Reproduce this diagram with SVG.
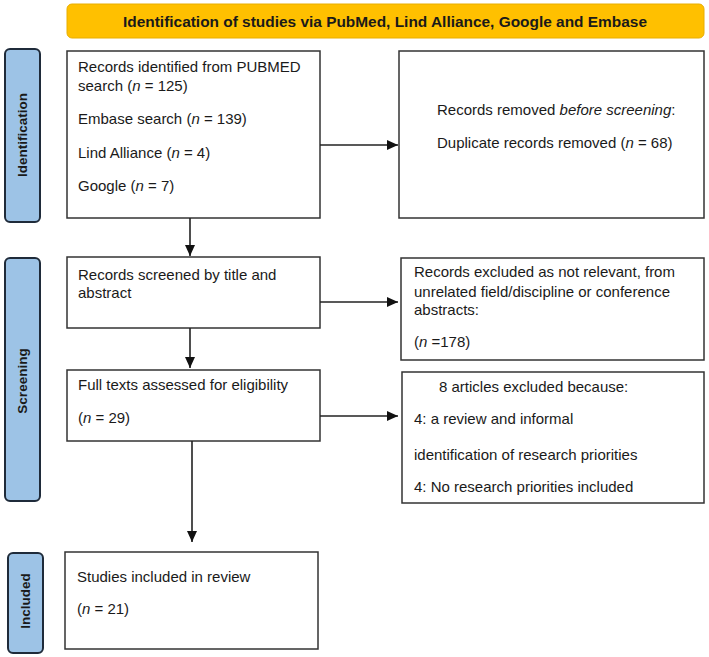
<svg xmlns="http://www.w3.org/2000/svg" width="709" height="657" viewBox="0 0 709 657">
<style>
.box{fill:#fff;stroke:#333;stroke-width:1.5}
.side{fill:#9DC3E6;stroke:#1F2B3A;stroke-width:2}
.hdr{fill:#FFC000;stroke:#E8AE00;stroke-width:1}
.t{font-family:"Liberation Sans",Arial,sans-serif;font-size:15px;fill:#1a1a1a}
.sl{font-family:"Liberation Sans",Arial,sans-serif;font-size:13.5px;font-weight:bold;fill:#1a1a1a;text-anchor:middle}
.ht{font-family:"Liberation Sans",Arial,sans-serif;font-size:15px;font-weight:bold;fill:#1a1a1a;text-anchor:middle}
.c{stroke:#222;stroke-width:1.6;fill:none;marker-end:url(#ah)}
</style>
<defs>
<marker id="ah" markerUnits="userSpaceOnUse" markerWidth="12" markerHeight="10" refX="11" refY="5" orient="auto">
<path d="M0,0 L11,5 L0,10 Z" fill="#111"/>
</marker>
</defs>
<rect width="709" height="657" fill="#fff"/>
<g id="header">
<rect class="hdr" x="67" y="4" width="637" height="34" rx="5"/>
<text class="ht" x="385" y="27" textLength="524" lengthAdjust="spacingAndGlyphs">Identification of studies via PubMed, Lind Alliance, Google and Embase</text>
</g>
<g id="side-identification">
<rect class="side" x="5" y="49" width="35" height="173" rx="5"/>
<text class="sl" transform="translate(27,135) rotate(-90)">Identification</text>
</g>
<g id="side-screening">
<rect class="side" x="5" y="258" width="35" height="243" rx="5"/>
<text class="sl" transform="translate(27,381) rotate(-90)">Screening</text>
</g>
<g id="side-included">
<rect class="side" x="8" y="553" width="35" height="100" rx="5"/>
<text class="sl" transform="translate(30,601) rotate(-90)">Included</text>
</g>
<g id="records-identified">
<rect class="box" x="67" y="51" width="253" height="167"/>
<text class="t" x="78" y="72">Records identified from PUBMED</text>
<text class="t" x="78" y="91">search (<tspan font-style="italic">n</tspan> = 125)</text>
<text class="t" x="78" y="124">Embase search (<tspan font-style="italic">n</tspan> = 139)</text>
<text class="t" x="78" y="158">Lind Alliance (<tspan font-style="italic">n</tspan> = 4)</text>
<text class="t" x="78" y="191">Google (<tspan font-style="italic">n</tspan> = 7)</text>
</g>
<g id="records-removed">
<rect class="box" x="399" y="51" width="305" height="167"/>
<text class="t" x="437" y="115">Records removed <tspan font-style="italic">before screening</tspan>:</text>
<text class="t" x="437" y="148">Duplicate records removed (<tspan font-style="italic">n</tspan> = 68)</text>
</g>
<g id="records-screened">
<rect class="box" x="67" y="257" width="253" height="71"/>
<text class="t" x="78" y="280">Records screened by title and</text>
<text class="t" x="78" y="298">abstract</text>
</g>
<g id="records-excluded">
<rect class="box" x="401" y="258" width="303" height="102"/>
<text class="t" x="414" y="277">Records excluded as not relevant, from</text>
<text class="t" x="414" y="297">unrelated field/discipline or conference</text>
<text class="t" x="414" y="315">abstracts:</text>
<text class="t" x="414" y="347">(<tspan font-style="italic">n</tspan> =178)</text>
</g>
<g id="full-texts">
<rect class="box" x="67" y="370" width="253" height="71"/>
<text class="t" x="78" y="390">Full texts assessed for eligibility</text>
<text class="t" x="78" y="423">(<tspan font-style="italic">n</tspan> = 29)</text>
</g>
<g id="articles-excluded">
<rect class="box" x="402" y="372" width="302" height="131"/>
<text class="t" x="439" y="392">8 articles excluded because:</text>
<text class="t" x="414" y="424">4: a review and informal</text>
<text class="t" x="414" y="460">identification of research priorities</text>
<text class="t" x="414" y="492">4: No research priorities included</text>
</g>
<g id="studies-included">
<rect class="box" x="65" y="552" width="253" height="97"/>
<text class="t" x="77" y="582">Studies included in review</text>
<text class="t" x="77" y="614">(<tspan font-style="italic">n</tspan> = 21)</text>
</g>
<g id="connectors">
<line class="c" x1="320" y1="145" x2="398" y2="145"/>
<line class="c" x1="190" y1="218" x2="190" y2="256"/>
<line class="c" x1="320" y1="302" x2="398" y2="302"/>
<line class="c" x1="190" y1="328" x2="190" y2="368"/>
<line class="c" x1="320" y1="416" x2="398" y2="416"/>
<line class="c" x1="192" y1="441" x2="192" y2="542"/>
</g>
</svg>
